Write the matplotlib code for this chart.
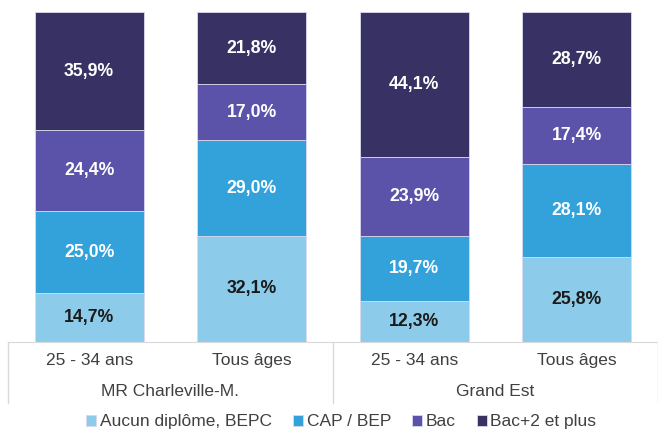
import numpy as np
import matplotlib.pyplot as plt
from matplotlib.lines import Line2D

plt.rcParams['font.family'] = ['Liberation Sans', 'DejaVu Sans']

# data
bars = ["25 - 34 ans", "Tous âges", "25 - 34 ans", "Tous âges"]
groups = ["MR Charleville-M.", "Grand Est"]
series = ["Aucun diplôme, BEPC", "CAP / BEP", "Bac", "Bac+2 et plus"]
aucun = [14.7, 32.1, 12.3, 25.8]
cap = [25.0, 29.0, 19.7, 28.1]
bac = [24.4, 17.0, 23.9, 17.4]
bac2 = [35.9, 21.8, 44.1, 28.7]

colors = ["#8ccbe9", "#33a2da", "#5b53a9", "#373263"]
text_colors = ["#1a1a1a", "white", "white", "white"]

fig = plt.figure(figsize=(6.58, 4.30), dpi=100)
ax = fig.add_axes([0.012, 0.205, 0.988, 0.767])

x = np.arange(len(bars))
bottom = np.zeros(len(bars))
for vals, col, tc, name in zip([aucun, cap, bac, bac2], colors, text_colors, series):
    vals = np.array(vals)
    ax.bar(x, vals, 0.67, bottom=bottom, color=col, edgecolor="#d9d9ef",
           linewidth=0.6, label=name, zorder=2)
    for xi, b, v in zip(x, bottom, vals):
        ax.text(xi, b + v / 2, f"{v:.1f}%".replace(".", ","), ha="center",
                va="center", color=tc, fontsize=12.7, fontweight="bold")
    bottom += vals

ax.set_xlim(-0.5, 3.5)
ax.set_ylim(0, 100)
ax.set_yticks([])
ax.set_xticks(x)
ax.set_xticklabels(bars, fontsize=12.5, color="#404040")
ax.tick_params(axis="x", length=0, pad=8)
for s in ["top", "right", "left"]:
    ax.spines[s].set_visible(False)
ax.spines["bottom"].set_color("#d9d9d9")

# second level of labels
tr = ax.get_xaxis_transform()
for gi, g in enumerate(groups):
    ax.text(0.5 + 2 * gi, -0.152, g, transform=tr, ha="center", va="center",
            fontsize=12.5, color="#404040")
for xs in [-0.5, 1.5, 3.5]:
    ax.add_line(Line2D([xs, xs], [0, -0.185], transform=tr, color="#d9d9d9",
                       linewidth=1, clip_on=False))

ax.legend(loc="center", bbox_to_anchor=(0.513, -0.243), ncol=4,
          frameon=False, fontsize=12.5, handlelength=0.57, handleheight=0.57,
          handletextpad=0.2, columnspacing=1.23, labelcolor="#404040",
          borderaxespad=0, borderpad=0)

fig.savefig("out.png", dpi=100)
